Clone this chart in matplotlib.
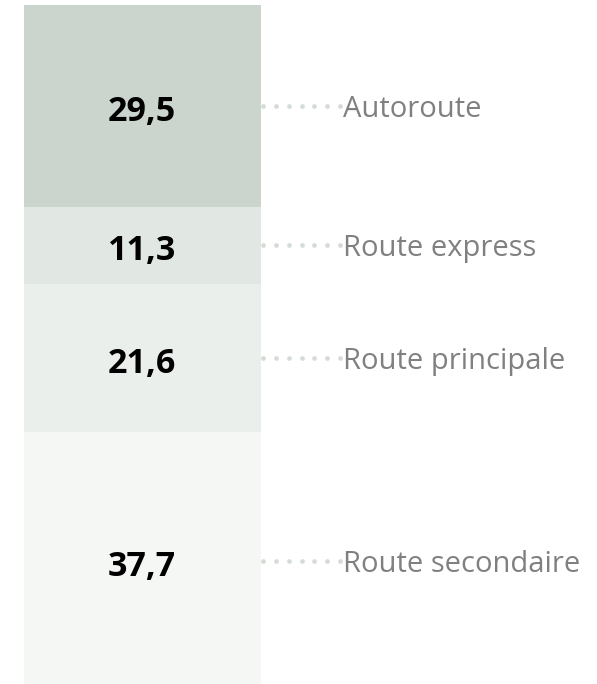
import matplotlib

matplotlib.use("Agg")
import matplotlib.pyplot as plt
import numpy as np

# Répartition par type de route (%)
categories = ["Autoroute", "Route express", "Route principale", "Route secondaire"]
values = [29.5, 11.3, 21.6, 37.7]
value_labels = ["29,5", "11,3", "21,6", "37,7"]
colors = ["#cbd5cd", "#e1e7e3", "#ebefec", "#f5f7f5"]

W, H = 597, 684
fig = plt.figure(figsize=(W / 100, H / 100), dpi=100)
# axes from the bar top (5 px) down to the image bottom
ax = fig.add_axes([0, 0, 1, (H - 5) / H])
ax.set_axis_off()

bar_w_px = 237
left_px = 23.5
ax.set_xlim(-0.5 - left_px / bar_w_px, 0.5 + (W - left_px - bar_w_px) / bar_w_px)
px_per_unit = 6.84
ax.set_ylim((H - 5) / px_per_unit, 0)

bottoms = np.concatenate([[0], np.cumsum(values)[:-1]])
ax.bar(0, values, width=1, bottom=bottoms, color=colors, linewidth=0)

centers = bottoms + np.array(values) / 2
for c, lab, cat in zip(centers, value_labels, categories):
    ax.text(0, c + 0.85, lab, ha="center", va="center", fontsize=24.5,
            fontweight="bold", family="Open Sans", color="#000000")
    ax.plot(np.linspace(0.511, 0.835, 7), [c] * 7, linestyle="none",
            marker="o", markersize=3.4, color="#d5dcd7", markeredgewidth=0)
    ax.text(0.848, c + 0.5, cat, ha="left", va="center", fontsize=21,
            family="Open Sans", color="#808080")

fig.savefig("out.png", dpi=100)
